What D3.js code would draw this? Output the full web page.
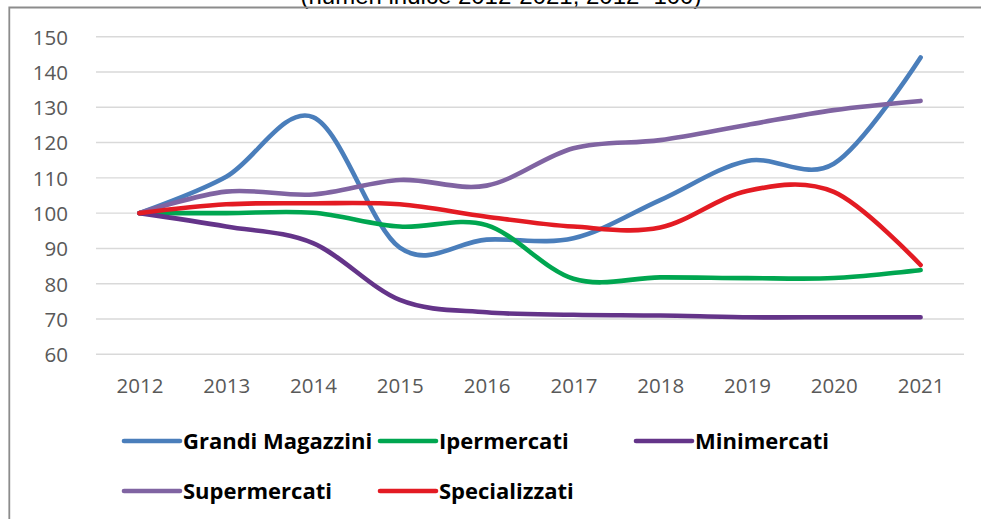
<!DOCTYPE html>
<html>
<head>
<meta charset="utf-8">
<script src="https://cdn.jsdelivr.net/npm/d3@7/dist/d3.min.js"></script>
<style>
  html, body { margin: 0; padding: 0; background: #fff; }
  svg { display: block; }
</style>
</head>
<body>
<svg id="chart" width="981" height="519"></svg>
<script>
// Categories (years) and index values, 2012 = 100
const years = ["2012", "2013", "2014", "2015", "2016", "2017", "2018", "2019", "2020", "2021"];
const grandiMagazzini = [100, 110.3, 127.2, 90.2, 92.5, 92.9, 103.7, 114.8, 114.0, 144.1];
const ipermercati     = [100, 100.0, 100.1, 96.2, 96.6, 81.4, 81.8, 81.6, 81.6, 83.9];
const minimercati     = [100, 96.2, 91.5, 75.4, 71.9, 71.2, 71.0, 70.5, 70.5, 70.5];
const supermercati    = [100, 106.1, 105.3, 109.4, 107.8, 118.4, 120.7, 125.0, 129.2, 131.8];
const specializzati   = [100, 102.5, 102.8, 102.5, 99.0, 96.2, 95.9, 106.3, 106.0, 85.3];
const yTicks = [60, 70, 80, 90, 100, 110, 120, 130, 140, 150];
const seriesNames = ["Grandi Magazzini", "Ipermercati", "Minimercati", "Supermercati", "Specializzati"];
const subtitle = "(numeri indice 2012-2021; 2012=100)";

const series = [
  { name: seriesNames[0], values: grandiMagazzini, color: "#4a7ebb" },
  { name: seriesNames[1], values: ipermercati,     color: "#00a650" },
  { name: seriesNames[2], values: minimercati,     color: "#643489" },
  { name: seriesNames[3], values: supermercati,    color: "#8064a2" },
  { name: seriesNames[4], values: specializzati,   color: "#e31b23" }
];

const svg = d3.select("#chart");
const plot = { left: 96, right: 964, top: 36.7, bottom: 354.3 };

const x = d3.scalePoint().domain(years).range([plot.left, plot.right]).padding(0.5);
const y = d3.scaleLinear().domain([60, 150]).range([plot.bottom, plot.top]);

// Subtitle sitting above the frame
svg.append("text")
  .attr("x", 501).attr("y", 4)
  .attr("text-anchor", "middle")
  .style("font-family", "'Liberation Sans', Arial, sans-serif")
  .style("font-size", "24px")
  .style("fill", "#000")
  .text(subtitle);

// Chart frame
svg.append("path")
  .attr("d", "M9.3,519 V7.5 H981")
  .attr("fill", "none")
  .attr("stroke", "#8c8c8c")
  .attr("stroke-width", 1.8);

// Horizontal gridlines
svg.append("g").selectAll("line")
  .data(yTicks)
  .join("line")
  .attr("x1", plot.left).attr("x2", plot.right)
  .attr("y1", d => y(d)).attr("y2", d => y(d))
  .attr("stroke", "#d9d9d9")
  .attr("stroke-width", 1.4);

const labelFont = "'Open Sans', 'Noto Sans', sans-serif";

// Y axis labels
const yAxis = svg.append("g")
  .attr("transform", "translate(68,0)")
  .call(d3.axisLeft(y).tickValues(yTicks).tickSize(0).tickPadding(0).tickFormat(d3.format("d")));
yAxis.select(".domain").remove();
yAxis.selectAll("text")
  .attr("dy", "0.36em")
  .style("font-family", labelFont)
  .style("font-size", "20.5px")
  .style("fill", "#595959");

// X axis labels
const xAxis = svg.append("g")
  .attr("transform", "translate(0,393)")
  .call(d3.axisBottom(x).tickSize(0).tickPadding(0));
xAxis.select(".domain").remove();
xAxis.selectAll("text")
  .attr("dy", 0)
  .style("font-family", labelFont)
  .style("font-size", "20.5px")
  .style("fill", "#595959");

// Smoothed series lines
const line = d3.line()
  .x((d, i) => x(years[i]))
  .y(d => y(d))
  .curve(d3.curveCardinal.tension(0));

svg.append("g").selectAll("path")
  .data(series)
  .join("path")
  .attr("d", d => line(d.values))
  .attr("fill", "none")
  .attr("stroke", d => d.color)
  .attr("stroke-width", 4.6)
  .attr("stroke-linecap", "round")
  .attr("stroke-linejoin", "round");

// Legend, two rows
const legendCols = [124, 380, 636];
const legendRows = [441, 491];
const legend = svg.append("g").selectAll("g")
  .data(series)
  .join("g")
  .attr("transform", (d, i) => `translate(${legendCols[i % 3]},${legendRows[Math.floor(i / 3)]})`);

legend.append("line")
  .attr("x1", 0).attr("x2", 56)
  .attr("y1", 0).attr("y2", 0)
  .attr("stroke", d => d.color)
  .attr("stroke-width", 4.6)
  .attr("stroke-linecap", "round");

legend.append("text")
  .attr("x", 59).attr("y", 7.5)
  .style("font-family", labelFont)
  .style("font-weight", "700")
  .style("font-size", "22px")
  .style("fill", "#000")
  .text(d => d.name);
</script>
</body>
</html>
